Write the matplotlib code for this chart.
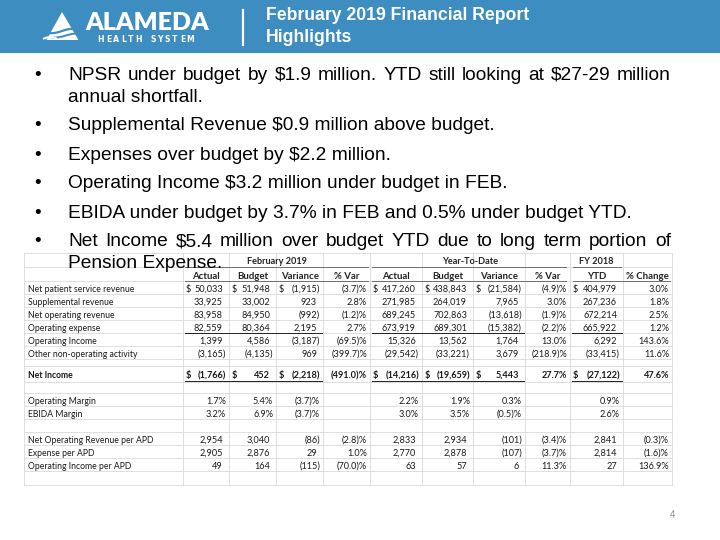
import matplotlib
matplotlib.use("Agg")
import matplotlib.pyplot as plt
from matplotlib.patches import Rectangle, Polygon
import numpy as np

# ---- slide text ----
title_lines = ["February 2019 Financial Report", "Highlights"]
bullets = [
    ["NPSR under budget by $1.9 million.  YTD still looking at $27-29 million", "annual shortfall."],
    ["Supplemental Revenue $0.9 million above budget."],
    ["Expenses over budget by $2.2 million."],
    ["Operating Income $3.2 million under budget in FEB."],
    ["EBIDA under budget by 3.7% in FEB and 0.5% under budget YTD."],
    ["Net Income $5.4 million over budget YTD due to long term portion of", "Pension Expense."],
]
page_no = "4"

# ---- table data ----
group_heads = ["February 2019", "Year-To-Date", "FY 2018"]
col_heads = ["Actual", "Budget", "Variance", "% Var",
             "Actual", "Budget", "Variance", "% Var",
             "YTD", "% Change"]
row_labels = ["Net patient service revenue", "Supplemental revenue", "Net operating revenue",
              "Operating expense", "Operating Income", "Other non-operating activity",
              "Net Income", "Operating Margin", "EBIDA Margin",
              "Net Operating Revenue per APD", "Expense per APD", "Operating Income per APD"]
feb_actual = [50033, 33925, 83958, 82559, 1399, -3165, -1766, 1.7, 3.2, 2954, 2905, 49]
feb_budget = [51948, 33002, 84950, 80364, 4586, -4135, 452, 5.4, 6.9, 3040, 2876, 164]
feb_var = [-1915, 923, -992, 2195, -3187, 969, -2218, -3.7, -3.7, -86, 29, -115]
feb_pct = [-3.7, 2.8, -1.2, 2.7, -69.5, -399.7, -491.0, None, None, -2.8, 1.0, -70.0]
ytd_actual = [417260, 271985, 689245, 673919, 15326, -29542, -14216, 2.2, 3.0, 2833, 2770, 63]
ytd_budget = [438843, 264019, 702863, 689301, 13562, -33221, -19659, 1.9, 3.5, 2934, 2878, 57]
ytd_var = [-21584, 7965, -13618, -15382, 1764, 3679, 5443, 0.3, -0.5, -101, -107, 6]
ytd_pct = [-4.9, 3.0, -1.9, -2.2, 13.0, -218.9, 27.7, None, None, -3.4, -3.7, 11.3]
fy_ytd = [404979, 267236, 672214, 665922, 6292, -33415, -27122, 0.9, 2.6, 2841, 2814, 27]
fy_pct = [3.0, 1.8, 2.5, 1.2, 143.6, 11.6, 47.6, None, None, -0.3, -1.6, 136.9]
pct_rows = {"Operating Margin", "EBIDA Margin"}
dollar_rows = {"Net patient service revenue", "Net Income"}
bold_rows = {"Net Income"}

BLUE = "#3d8dc1"
TFONT = "Lato"
TSIZE = 6.6
LSIZE = 6.2

fig = plt.figure(figsize=(7.2, 5.4), dpi=100)
ax = fig.add_axes([0, 0, 1, 1])
ax.set_xlim(0, 720)
ax.set_ylim(540, 0)
ax.axis("off")


def txt(x, y, s, **kw):
    kw.setdefault("parse_math", False)
    return ax.text(x, y, s, **kw)


# ---- header band ----
ax.add_patch(Rectangle((0, 0), 720, 53, color=BLUE, lw=0))
ax.plot([243, 243], [10, 45], color="white", lw=1.6)
for i, line in enumerate(title_lines):
    txt(266, 15 + 22 * i, line, color="white", fontsize=12.7, weight="bold",
        family="Liberation Sans", va="center")

# logo
ax.add_patch(Polygon([(62, 12), (46.5, 40), (78.5, 40)], color="white", lw=0, zorder=3))
xs = np.linspace(40, 80, 60)
ax.plot(xs, 31 + 2.2 * np.sin((xs - 40) / 7.0), color=BLUE, lw=1.6, zorder=4)
ax.plot(xs, 35.5 + 2.0 * np.sin((xs - 44) / 7.0), color=BLUE, lw=1.4, zorder=4)
xw = np.linspace(44, 56, 20)
ax.plot(xw, 38.5 - 1.5 * np.sin((xw - 44) / 4.0), color="white", lw=1.4, zorder=4)
txt(85, 23, "ALAMEDA", color="white", fontsize=18, weight="heavy", family="Lato", va="center")
for i, ch in enumerate("HEALTH SYSTEM"):
    txt(101 + i * 7.4, 39, ch, color="white", fontsize=5.6, weight="bold",
        family="DejaVu Sans", ha="center", va="center")

# ---- table ----
feb_cols = [183, 229, 276, 323, 370]
ytd_cols = [370, 422, 473, 525, 570]
fy_cols = [570, 623, 672]
col_spans = ([(feb_cols[i], feb_cols[i + 1]) for i in range(4)] +
             [(ytd_cols[i], ytd_cols[i + 1]) for i in range(4)] +
             [(fy_cols[i], fy_cols[i + 1]) for i in range(2)])
vlines = sorted(set([24] + feb_cols + ytd_cols + fy_cols))

slots = ["h1", "h2", 0, 1, 2, 3, 4, 5, None, 6, None, 7, 8, None, 9, 10, 11, None]
heights = [14, 14, 13, 13, 13, 13, 13, 13, 7, 16, 11, 13, 13, 13, 13, 13, 13, 14]
top = 253
bottoms = list(top + np.cumsum(heights))
grid_c = "#d9d9d9"
ax.add_patch(Rectangle((24, top), 648, bottoms[-1] - top, color="white", lw=0, zorder=0))
for yb in [top] + bottoms:
    ax.plot([24, 672], [yb, yb], color=grid_c, lw=0.6, zorder=1)
for xv in vlines:
    ax.plot([xv, xv], [top, bottoms[-1]], color=grid_c, lw=0.6, zorder=1)

bottom_of = {s: b for s, b in zip(slots, bottoms) if s is not None}

# group heads
b1 = bottom_of["h1"] - 2.5
for head, (l, r) in zip(group_heads, [(feb_cols[0], feb_cols[-1]), (ytd_cols[0], ytd_cols[-1]),
                                      (fy_cols[0], fy_cols[1])]):
    txt((l + r) / 2, b1, head, fontsize=TSIZE, weight="bold", family=TFONT,
        ha="center", va="baseline", color="#222222", zorder=3)
b2 = bottom_of["h2"] - 2
for head, (l, r) in zip(col_heads, col_spans):
    txt((l + r) / 2, b2, head, fontsize=TSIZE + 0.3, weight="bold", family=TFONT,
        ha="center", va="baseline", color="#222222", zorder=3)

hl = "#6f6f6f"
for yb, spans in [(bottom_of["h1"], [(185, 368), (372, 566), (573, 621)]),
                  (bottom_of["h2"], [(185, 368), (372, 566), (573, 670)])]:
    for l, r in spans:
        ax.plot([l, r], [yb, yb], color=hl, lw=0.7, zorder=2)


def fmt_num(v):
    return f"({abs(v):,})" if v < 0 else f"{v:,}"


def fmt_pct(v):
    return f"({abs(v):.1f})%" if v < 0 else f"{v:.1f}%"


columns = [feb_actual, feb_budget, feb_var, feb_pct,
           ytd_actual, ytd_budget, ytd_var, ytd_pct, fy_ytd, fy_pct]
pct_cols = {3, 7, 9}
for i, lab in enumerate(row_labels):
    yb = bottom_of[i] - (4 if lab in bold_rows else 2)
    w = "bold" if lab in bold_rows else "normal"
    txt(28, yb, lab, fontsize=LSIZE, family=TFONT, weight=w, va="baseline",
        color="#1a1a1a", zorder=3)
    for c, (col, (l, r)) in enumerate(zip(columns, col_spans)):
        v = col[i]
        if v is None:
            continue
        if c in pct_cols or lab in pct_rows:
            s, xr = fmt_pct(v), r - 3
        else:
            s = fmt_num(v)
            xr = r - 3 if v < 0 else r - 6
            if lab in dollar_rows:
                txt(l + 3, yb, "$", fontsize=TSIZE, family=TFONT, weight=w,
                    va="baseline", color="#1a1a1a", zorder=3)
        txt(xr, yb, s, fontsize=TSIZE, family=TFONT, weight=w, ha="right",
            va="baseline", color="#1a1a1a", zorder=3)

# subtotal rules
rule_spans = [(183, 323), (370, 525), (570, 623)]
for yb in [bottom_of[3], bottom_of[6] - 1]:
    for l, r in rule_spans:
        ax.plot([l + 2, r - 1], [yb, yb], color="#222222", lw=0.7, zorder=2)

# ---- bullets ----
line_y = [[74, 97], [125], [154], [183], [212], [241, 263]]
justify = {(0, 0), (5, 0)}
renderer = fig.canvas.get_renderer()
bkw = dict(fontsize=13.8, family="Liberation Sans", color="black", va="baseline", zorder=5)
base_off = 5.5  # baseline sits below the visual line centre
for bi, (lines, ys) in enumerate(zip(bullets, line_y)):
    txt(34, ys[0] + base_off, "\u2022", **bkw)
    for li, (line, y) in enumerate(zip(lines, ys)):
        yb = y + base_off
        if (bi, li) in justify:
            words = line.split()
            objs = [txt(0, yb, wd, **bkw) for wd in words]
            widths = [o.get_window_extent(renderer).width for o in objs]
            gap = (671 - 68 - sum(widths)) / (len(words) - 1)
            x = 68
            for o, wdt in zip(objs, widths):
                o.set_x(x)
                x += wdt + gap
        else:
            txt(68, yb, line, **bkw)

txt(672, 515, page_no, fontsize=7, color="#8c8c8c", family="Liberation Sans",
    ha="center", va="center")

fig.savefig("out.png", dpi=100)
